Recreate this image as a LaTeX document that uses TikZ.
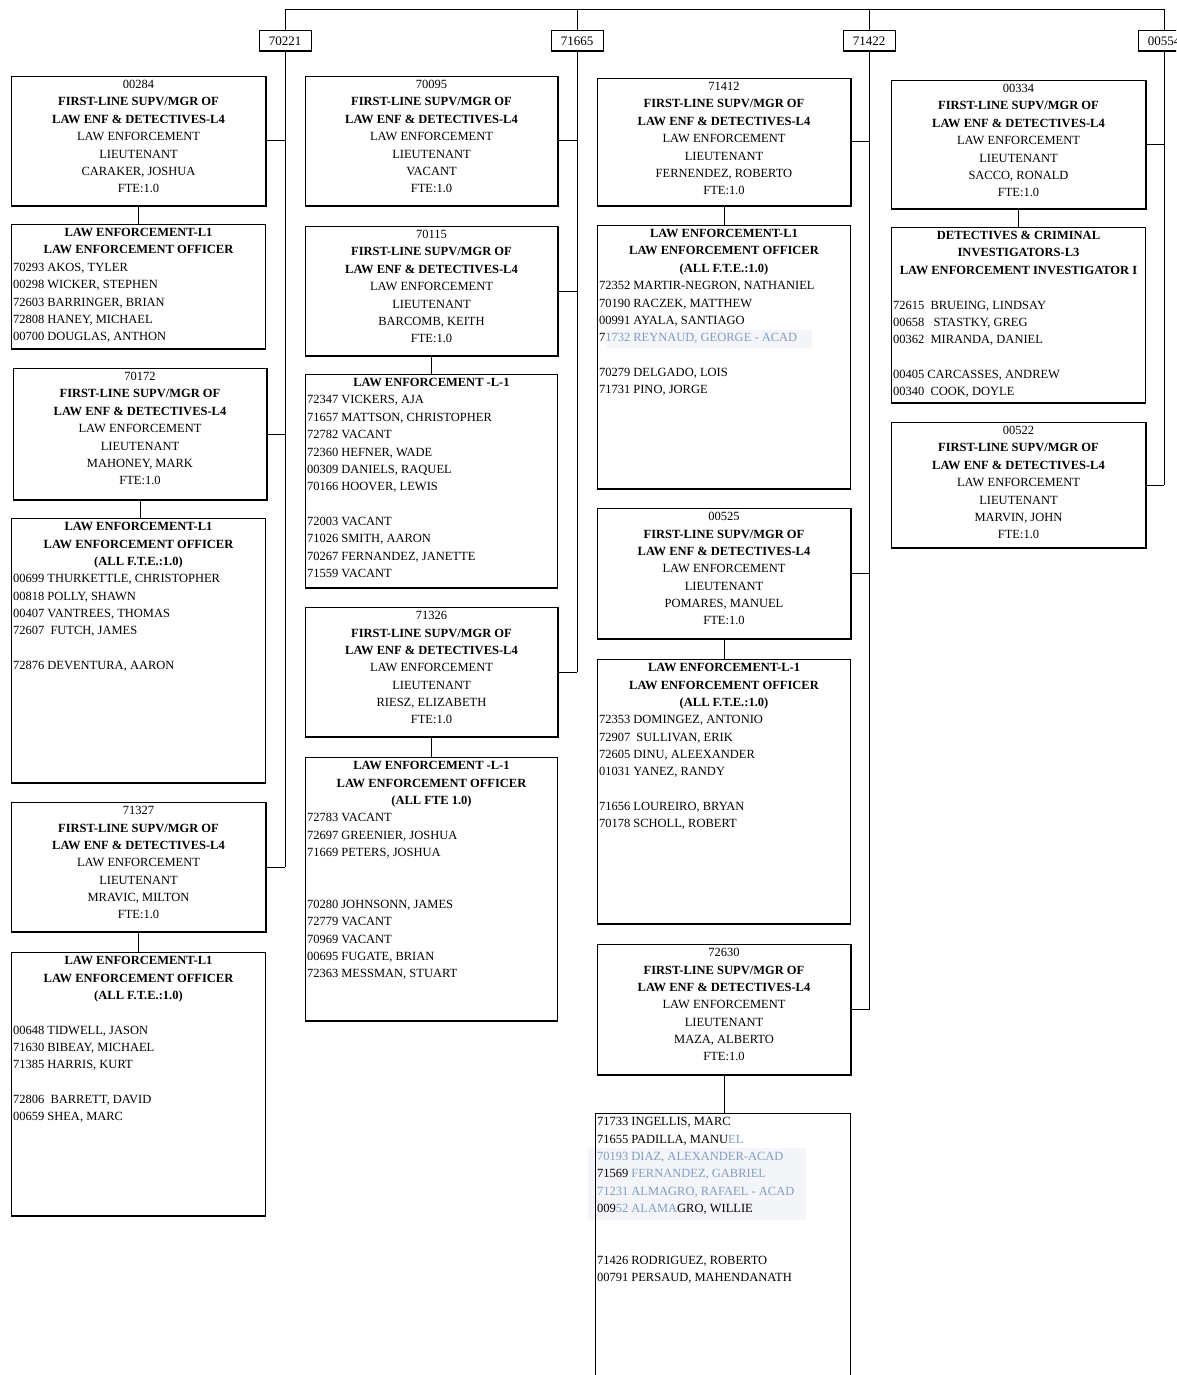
\documentclass[tikz,border=0pt]{standalone}
\usepackage{fontspec}
\setmainfont{Liberation Serif}
\definecolor{faded}{RGB}{128,156,196}
\definecolor{hilite}{RGB}{243,245,248}
% one line of a box: centred, flush left, or empty
\newcommand\ctr[1]{\par\hbox to\hsize{\hss\strut#1\hss}}
\newcommand\lft[1]{\par\hbox to\hsize{\strut#1\hss}}
\newcommand\blank{\par\hbox{\strut}}
% standard lieutenant box text
\newcommand\ltbox[2]{\ctr{#1}\ctr{\bfseries FIRST-LINE SUPV/MGR OF}\ctr{\bfseries LAW ENF \& DETECTIVES-L4}\ctr{LAW ENFORCEMENT}\ctr{LIEUTENANT}\ctr{#2}\ctr{FTE:1.0}}
% a box: name, left, top, width, height, text
\newcommand\unit[6]{\node[box] (#1) at (#2,#3) {\parbox[c][#5pt][t]{\dimexpr#4pt-3pt\relax}{\fontsize{12.5}{17.35}\selectfont#6}};}
\newcommand\heavy[1]{\draw[line width=2.2pt] (#1.south west) -- (#1.south east) -- (#1.north east);}
\newcommand\baseline[1]{\draw[line width=1.6pt] (#1.south west) -- (#1.south east);}
\begin{document}
\begin{tikzpicture}[x=1pt,y=-1pt,
  box/.style={draw=black, line width=1pt, inner xsep=1.5pt, inner ysep=0pt, anchor=north west},
  hdr/.style={draw=black, line width=1pt, minimum width=52pt, minimum height=20pt, inner sep=0pt, font=\fontsize{13}{15}\selectfont},
  link/.style={line width=1pt}]
\useasboundingbox (0,0) rectangle (1176,1375);
\fill[white] (0,0) rectangle (1176,1375);
\clip (0,0) rectangle (1176,1375);

% pale marks behind the faded entries
\fill[hilite] (607,330) rectangle (812,348);
\fill[hilite] (588,1148) rectangle (806,1220);

% position headers
\node[hdr] (h70221) at (285,41) {70221};
\node[hdr] (h71665) at (577,41) {71665};
\node[hdr] (h71422) at (869,41) {71422};
\node[hdr] (h00554) at (1164,41) {00554};
\coordinate (top) at (0,10);

% ---------- column 70221 ----------
\unit{s00284}{11}{76}{254}{129}{\ltbox{00284}{CARAKER, JOSHUA}}
\unit{l1a}{11}{224}{254}{124}{%
  \ctr{\bfseries LAW ENFORCEMENT-L1}\ctr{\bfseries LAW ENFORCEMENT OFFICER}%
  \lft{70293 AKOS, TYLER}\lft{00298 WICKER, STEPHEN}\lft{72603 BARRINGER, BRIAN}%
  \lft{72808 HANEY, MICHAEL}\lft{00700 DOUGLAS, ANTHON}}
\unit{s70172}{13}{368}{253}{131}{\ltbox{70172}{MAHONEY, MARK}}
\unit{l1b}{11}{518}{254}{264}{%
  \ctr{\bfseries LAW ENFORCEMENT-L1}\ctr{\bfseries LAW ENFORCEMENT OFFICER}\ctr{\bfseries (ALL F.T.E.:1.0)}%
  \lft{00699 THURKETTLE, CHRISTOPHER}\lft{00818 POLLY, SHAWN}\lft{00407 VANTREES, THOMAS}%
  \lft{72607 \ FUTCH, JAMES}\blank\lft{72876 DEVENTURA, AARON}}
\unit{s71327}{11}{802}{254}{129}{\ltbox{71327}{MRAVIC, MILTON}}
\unit{l1c}{11}{952}{254}{263}{%
  \ctr{\bfseries LAW ENFORCEMENT-L1}\ctr{\bfseries LAW ENFORCEMENT OFFICER}\ctr{\bfseries (ALL F.T.E.:1.0)}%
  \blank\lft{00648 TIDWELL, JASON}\lft{71630 BIBEAY, MICHAEL}\lft{71385 HARRIS, KURT}%
  \blank\lft{72806 \ BARRETT, DAVID}\lft{00659 SHEA, MARC}}

% ---------- column 71665 ----------
\unit{s70095}{305}{76}{252}{129}{\ltbox{70095}{VACANT}}
\unit{s70115}{305}{226}{252}{129}{\ltbox{70115}{BARCOMB, KEITH}}
\unit{l2a}{305}{374}{252}{213}{%
  \ctr{\bfseries LAW ENFORCEMENT -L-1}%
  \lft{72347 VICKERS, AJA}\lft{71657 MATTSON, CHRISTOPHER}\lft{72782 VACANT}%
  \lft{72360 HEFNER, WADE}\lft{00309 DANIELS, RAQUEL}\lft{70166 HOOVER, LEWIS}%
  \blank\lft{72003 VACANT}\lft{71026 SMITH, AARON}\lft{70267 FERNANDEZ, JANETTE}\lft{71559 VACANT}}
\unit{s71326}{305}{607}{252}{129}{\ltbox{71326}{RIESZ, ELIZABETH}}
\unit{l2b}{305}{757}{252}{263}{%
  \ctr{\bfseries LAW ENFORCEMENT -L-1}\ctr{\bfseries LAW ENFORCEMENT OFFICER}\ctr{\bfseries (ALL FTE 1.0)}%
  \lft{72783 VACANT}\lft{72697 GREENIER, JOSHUA}\lft{71669 PETERS, JOSHUA}%
  \blank\blank\lft{70280 JOHNSONN, JAMES}\lft{72779 VACANT}\lft{70969 VACANT}%
  \lft{00695 FUGATE, BRIAN}\lft{72363 MESSMAN, STUART}}

% ---------- column 71422 ----------
\unit{s71412}{597}{78}{253}{127}{\ltbox{71412}{FERNENDEZ, ROBERTO}}
\unit{l3a}{597}{225}{253}{263}{%
  \ctr{\bfseries LAW ENFORCEMENT-L1}\ctr{\bfseries LAW ENFORCEMENT OFFICER}\ctr{\bfseries (ALL F.T.E.:1.0)}%
  \lft{72352 MARTIR-NEGRON, NATHANIEL}\lft{70190 RACZEK, MATTHEW}\lft{00991 AYALA, SANTIAGO}%
  \lft{7\textcolor{faded}{1732 REYNAUD, GEORGE - ACAD}}%
  \blank\lft{70279 DELGADO, LOIS}\lft{71731 PINO, JORGE}}
\unit{s00525}{597}{508}{253}{130}{\ltbox{00525}{POMARES, MANUEL}}
\unit{l3b}{597}{659}{253}{264}{%
  \ctr{\bfseries LAW ENFORCEMENT-L-1}\ctr{\bfseries LAW ENFORCEMENT OFFICER}\ctr{\bfseries (ALL F.T.E.:1.0)}%
  \lft{72353 DOMINGEZ, ANTONIO}\lft{72907 \ SULLIVAN, ERIK}\lft{72605 DINU, ALEEXANDER}%
  \lft{01031 YANEZ, RANDY}\blank\lft{71656 LOUREIRO, BRYAN}\lft{70178 SCHOLL, ROBERT}}
\unit{s72630}{597}{944}{253}{130}{\ltbox{72630}{MAZA, ALBERTO}}
\unit{l3c}{595}{1113}{255}{275}{%
  \lft{71733 INGELLIS, MARC}\lft{71655 PADILLA, MANU\textcolor{faded}{EL}}%
  \lft{\textcolor{faded}{70193 DIAZ, ALEXANDER-ACAD}}\lft{71569 \textcolor{faded}{FERNANDEZ, GABRIEL}}%
  \lft{\textcolor{faded}{71231 ALMAGRO, RAFAEL - ACAD}}\lft{009\textcolor{faded}{52 ALAMA}GRO, WILLIE}%
  \blank\blank\lft{71426 RODRIGUEZ, ROBERTO}\lft{00791 PERSAUD, MAHENDANATH}}

% ---------- column 00554 ----------
\unit{s00334}{891}{80}{254}{128}{\ltbox{00334}{SACCO, RONALD}}
\unit{l4a}{891}{227}{254}{175}{%
  \ctr{\bfseries DETECTIVES \& CRIMINAL}\ctr{\bfseries INVESTIGATORS-L3}\ctr{\bfseries LAW ENFORCEMENT INVESTIGATOR I}%
  \blank\lft{72615 \ BRUEING, LINDSAY}\lft{00658 \ \ STASTKY, GREG}\lft{00362 \ MIRANDA, DANIEL}%
  \blank\lft{00405 CARCASSES, ANDREW}\lft{00340 \ COOK, DOYLE}}
\unit{s00522}{891}{422}{254}{125}{\ltbox{00522}{MARVIN, JOHN}}

% heavier lower and right edges
\foreach \n in {s00284,s70172,s71327,s70095,s70115,s71326,s71412,s00525,s72630,s00334,s00522}{\heavy{\n}}
\foreach \n in {l1a,l1b,l1c,l2a,l2b,l3a,l3b,l4a,h70221,h71665,h71422,h00554}{\baseline{\n}}

% top bar and drops to the headers
\draw[link] (h70221.north) -- (h70221.north |- top) -| (h00554.north);
\draw[link] (h71665.north) -- (h71665.north |- top);
\draw[link] (h71422.north) -- (h71422.north |- top);

% trunks below the headers
\draw[link] (h70221.south) -- (h70221.south |- s71327.east);
\draw[link] (h71665.south) -- (h71665.south |- s71326.east);
\draw[link] (h71422.south) -- (h71422.south |- s72630.east);
\draw[link] (h00554.south) -- (h00554.south |- s00522.east);

% branches from the trunks
\foreach \n/\t in {s00284/h70221,s70172/h70221,s71327/h70221,
                   s70095/h71665,s70115/h71665,s71326/h71665,
                   s71412/h71422,s00525/h71422,s72630/h71422,
                   s00334/h00554,s00522/h00554}{\draw[link] (\n.east) -- (\n.east -| \t.south);}

% lieutenant to officers
\draw[link] (s00284.south) -- (l1a.north);
\draw[link] (s70172.south) -- (s70172.south |- l1b.north);
\draw[link] (s71327.south) -- (l1c.north);
\draw[link] (s70115.south) -- (l2a.north);
\draw[link] (s71326.south) -- (l2b.north);
\draw[link] (s71412.south) -- (l3a.north);
\draw[link] (s00525.south) -- (l3b.north);
\draw[link] (s72630.south) -- (s72630.south |- l3c.north);
\draw[link] (s00334.south) -- (l4a.north);
\end{tikzpicture}
\end{document}
